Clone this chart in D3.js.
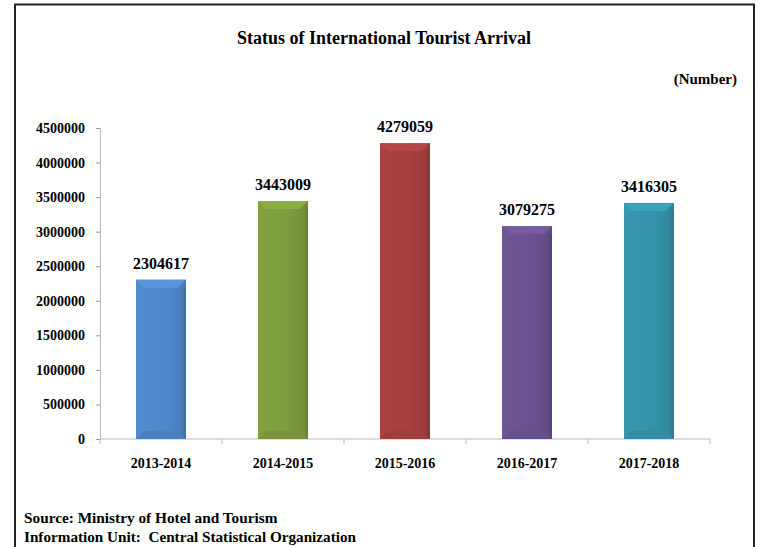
<!DOCTYPE html>
<html>
<head>
<meta charset="utf-8">
<script src="https://cdn.jsdelivr.net/npm/d3@7"></script>
<style>
  html, body { margin: 0; padding: 0; background: #fff; overflow: hidden; }
  svg { display: block; }
  svg text { font-family: "Liberation Serif", "Times New Roman", serif; font-weight: bold; fill: #000; }
</style>
</head>
<body>
<svg></svg>
<script>
const years = ['2013-2014', '2014-2015', '2015-2016', '2016-2017', '2017-2018'];
const arrivals = [2304617, 3443009, 4279059, 3079275, 3416305];
const yTicks = [0, 500000, 1000000, 1500000, 2000000, 2500000, 3000000, 3500000, 4000000, 4500000];
const barColors = ['#4f87c9', '#7d9c3e', '#a63f3f', '#6a5290', '#3592a9'];

const width = 770;
const height = 547;
const margin = {top: 128, right: 60, bottom: 108, left: 100};
const innerWidth = width - margin.left - margin.right;
const innerHeight = height - margin.top - margin.bottom;

const svg = d3.select('svg')
    .attr('width', width)
    .attr('height', height);

// frame, open at the bottom
svg.append('path')
    .attr('d', 'M15,560 L15,4.5 L754,4.5 L754,560')
    .attr('fill', 'none')
    .attr('stroke', '#222')
    .attr('stroke-width', 2);

svg.append('text')
    .attr('x', 384)
    .attr('y', 44)
    .attr('text-anchor', 'middle')
    .style('font-size', '18px')
    .text('Status of International Tourist Arrival');

svg.append('text')
    .attr('x', 737)
    .attr('y', 84)
    .attr('text-anchor', 'end')
    .style('font-size', '15px')
    .text('(Number)');

const defs = svg.append('defs');
barColors.forEach((c, i) => {
    const g = defs.append('linearGradient')
        .attr('id', 'grad' + i)
        .attr('x1', 0).attr('x2', 1).attr('y1', 0).attr('y2', 0);
    g.append('stop').attr('offset', 0).attr('stop-color', d3.color(c).brighter(0.1));
    g.append('stop').attr('offset', 0.6).attr('stop-color', c);
    g.append('stop').attr('offset', 0.9).attr('stop-color', d3.color(c).darker(0.2));
    g.append('stop').attr('offset', 1).attr('stop-color', d3.color(c).darker(0.6));
});

const focus = svg.append('g')
    .attr('transform', `translate(${margin.left}, ${margin.top})`);

const x = d3.scaleBand()
    .domain(years)
    .range([0, innerWidth])
    .paddingInner(0.59)
    .paddingOuter(0.295);

const y = d3.scaleLinear()
    .domain([0, 4500000])
    .range([innerHeight, 0]);

// y axis
const yAxis = focus.append('g')
    .call(d3.axisLeft(y).tickValues(yTicks).tickFormat(d3.format('d')).tickSize(4).tickPadding(11));
yAxis.attr('font-family', null).attr('font-size', null);
yAxis.select('.domain').attr('stroke', '#bbb');
yAxis.selectAll('.tick line').attr('stroke', '#999');
yAxis.selectAll('.tick text').style('font-size', '14px');

// x axis with ticks between categories
const xAxisG = focus.append('g')
    .attr('transform', `translate(0, ${innerHeight})`);
xAxisG.append('line')
    .attr('x1', 0).attr('x2', innerWidth)
    .attr('stroke', '#bbb');
const step = innerWidth / years.length;
xAxisG.selectAll('line.tk')
    .data(d3.range(years.length + 1))
    .join('line')
    .attr('class', 'tk')
    .attr('x1', d => d * step).attr('x2', d => d * step)
    .attr('y1', 0).attr('y2', 5)
    .attr('stroke', '#bbb');
xAxisG.selectAll('text')
    .data(years)
    .join('text')
    .attr('x', d => x(d) + x.bandwidth() / 2)
    .attr('y', 29)
    .attr('text-anchor', 'middle')
    .style('font-size', '14px')
    .text(d => d);

// bars
const bars = focus.selectAll('g.bar')
    .data(years)
    .join('g')
    .attr('class', 'bar');

const bev = 8;
bars.append('rect')
    .attr('x', d => x(d))
    .attr('y', (d, i) => y(arrivals[i]))
    .attr('width', x.bandwidth())
    .attr('height', (d, i) => innerHeight - y(arrivals[i]))
    .attr('fill', (d, i) => `url(#grad${i})`);

// top bevel
bars.append('path')
    .attr('d', (d, i) => {
        const x0 = x(d), x1 = x0 + x.bandwidth(), t = y(arrivals[i]);
        return `M${x0},${t} L${x1},${t} L${x1 - bev},${t + bev} L${x0 + bev},${t + bev} Z`;
    })
    .attr('fill', (d, i) => d3.color(barColors[i]).brighter(0.3));
bars.append('path')
    .attr('d', (d, i) => {
        const x0 = x(d), x1 = x0 + x.bandwidth(), t = y(arrivals[i]);
        return `M${x1},${t} L${x1},${t + bev} L${x1 - bev},${t + bev} Z`;
    })
    .attr('fill', (d, i) => d3.color(barColors[i]).darker(0.2))
    .attr('opacity', 0.6);

// bottom bevel, subtle
bars.append('path')
    .attr('d', d => {
        const x0 = x(d), x1 = x0 + x.bandwidth(), b = innerHeight;
        return `M${x0},${b} L${x0 + bev},${b - bev} L${x1 - bev},${b - bev} L${x1},${b} Z`;
    })
    .attr('fill', (d, i) => d3.color(barColors[i]).darker(0.12));

// value labels
bars.append('text')
    .attr('x', d => x(d) + x.bandwidth() / 2)
    .attr('y', (d, i) => y(arrivals[i]) - 11)
    .attr('text-anchor', 'middle')
    .style('font-size', '16px')
    .text((d, i) => arrivals[i]);

svg.append('text')
    .attr('x', 24)
    .attr('y', 523)
    .style('font-size', '15.3px')
    .text('Source: Ministry of Hotel and Tourism');

svg.append('text')
    .attr('x', 24)
    .attr('y', 542)
    .style('font-size', '15.2px')
    .attr('xml:space', 'preserve')
    .text('Information Unit:  Central Statistical Organization');
</script>
</body>
</html>
